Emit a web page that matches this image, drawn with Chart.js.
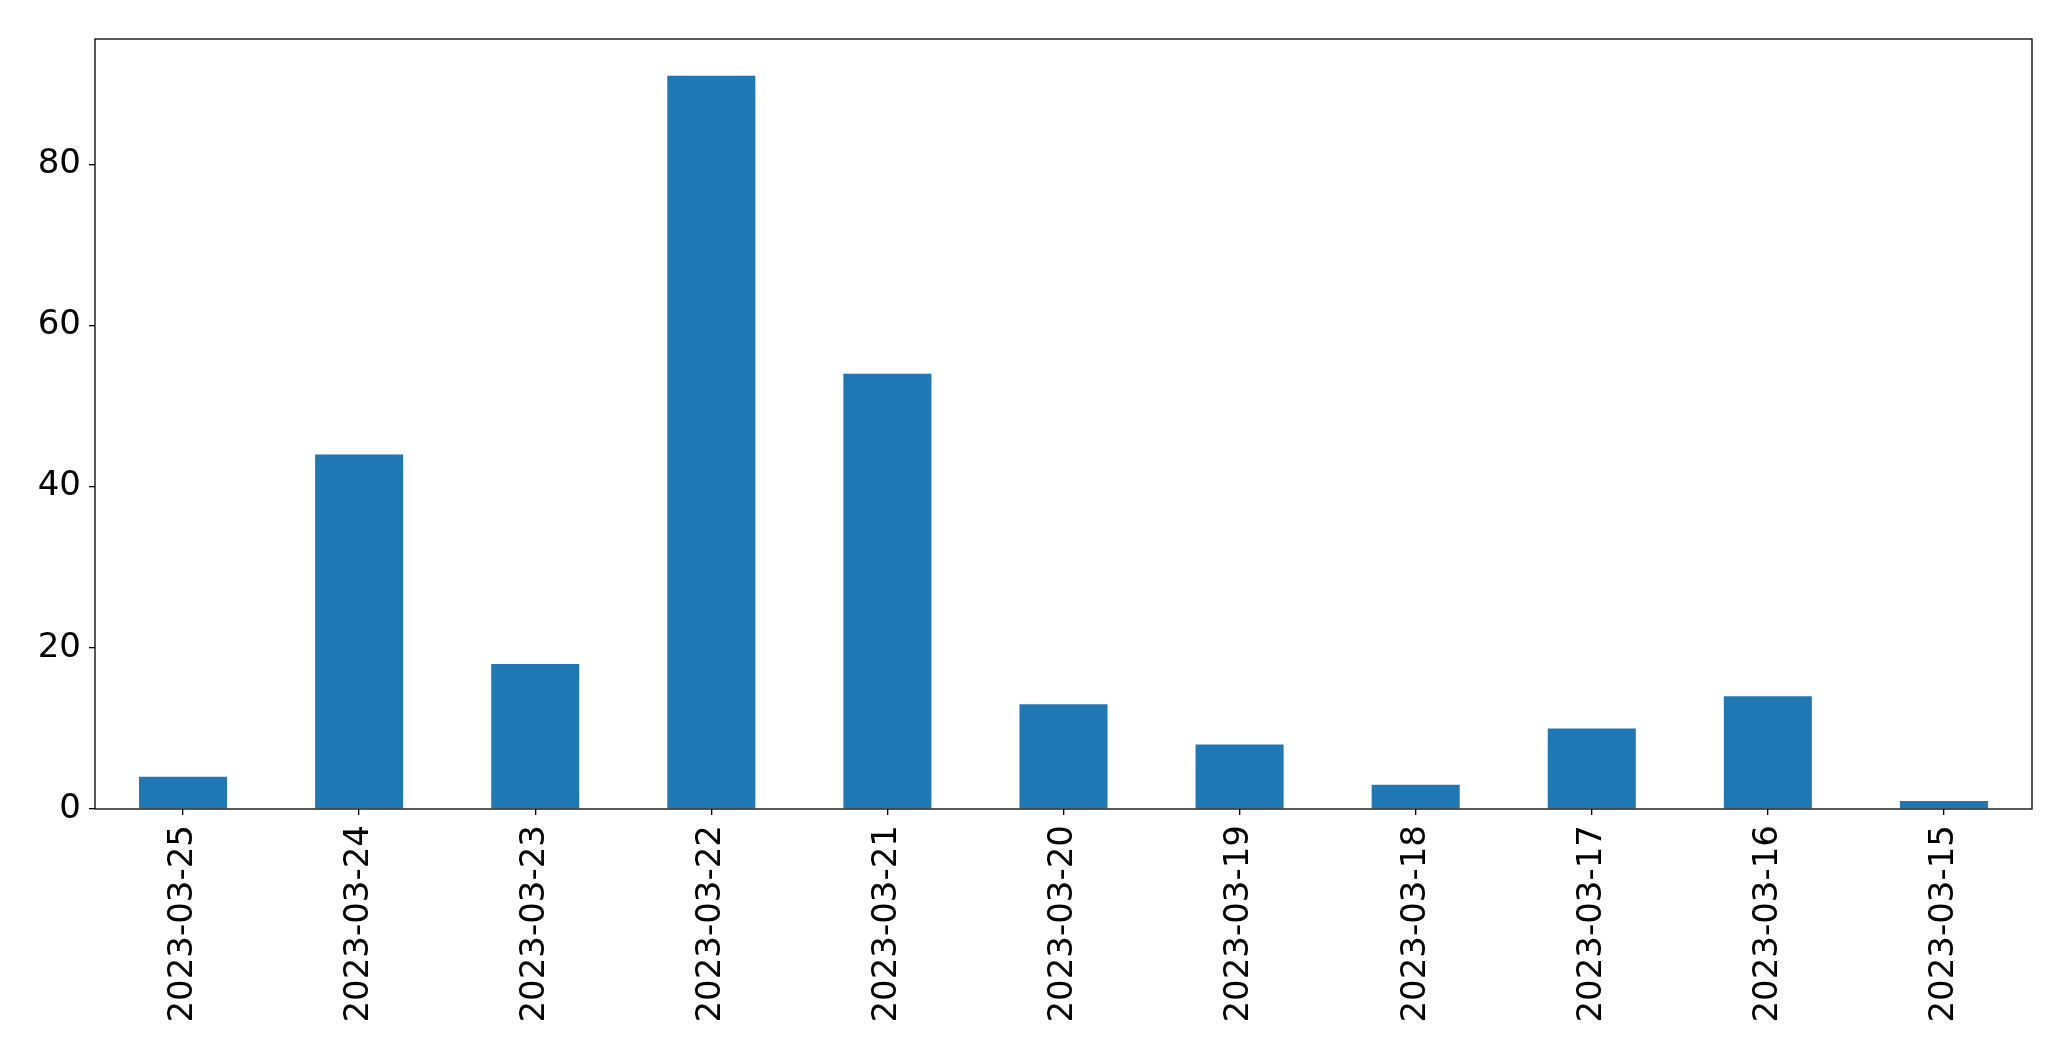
<!DOCTYPE html>
<html>
<head>
<meta charset="utf-8">
<script src="https://cdn.jsdelivr.net/npm/chart.js@4/dist/chart.umd.min.js"></script>
<style>
  body { margin: 0; background: #fff; }
  canvas { display: block; }
</style>
</head>
<body>
<canvas id="myChart" width="2071" height="1061"></canvas>
<script>
const labels = [
  '2023-03-25', '2023-03-24', '2023-03-23', '2023-03-22', '2023-03-21', '2023-03-20',
  '2023-03-19', '2023-03-18', '2023-03-17', '2023-03-16', '2023-03-15'
];
const counts = [4, 44, 18, 91, 54, 13, 8, 3, 10, 14, 1];
const yTicks = [0, 20, 40, 60, 80];

// box around the plot, like matplotlib spines
const frame = {
  id: 'frame',
  afterDraw(chart) {
    const a = chart.chartArea;
    const ctx = chart.ctx;
    ctx.save();
    ctx.strokeStyle = '#000';
    ctx.lineWidth = 1.3;
    ctx.strokeRect(a.left, a.top, a.right - a.left, a.bottom - a.top);
    ctx.restore();
  }
};

const font = { family: 'DejaVu Sans', size: 34 };

const myChart = new Chart(document.getElementById('myChart'), {
  type: 'bar',
  data: {
    labels: labels,
    datasets: [{
      data: counts,
      backgroundColor: '#1f77b4',
      categoryPercentage: 1,
      barPercentage: 0.5
    }]
  },
  options: {
    responsive: false,
    animation: false,
    devicePixelRatio: 1,
    layout: { padding: { left: 0, top: 39, right: 39, bottom: 0 } },
    plugins: { legend: { display: false }, tooltip: { enabled: false } },
    scales: {
      x: {
        offset: true,
        border: { display: false },
        grid: { display: true, offset: false, drawOnChartArea: false, tickLength: 6, color: '#000', lineWidth: 1.3 },
        ticks: { color: '#000', font: font, minRotation: 90, maxRotation: 90, padding: 10, autoSkip: false },
        afterFit(scale) { scale.height = 252; }
      },
      y: {
        min: 0,
        max: 95.55,
        border: { display: false },
        grid: { display: true, drawOnChartArea: false, tickLength: 6, color: '#000', lineWidth: 1.3 },
        afterBuildTicks(scale) { scale.ticks = yTicks.map(v => ({ value: v })); },
        ticks: { color: '#000', font: font, padding: 8 },
        afterFit(scale) { scale.width = 95; }
      }
    }
  },
  plugins: [frame]
});
</script>
</body>
</html>
